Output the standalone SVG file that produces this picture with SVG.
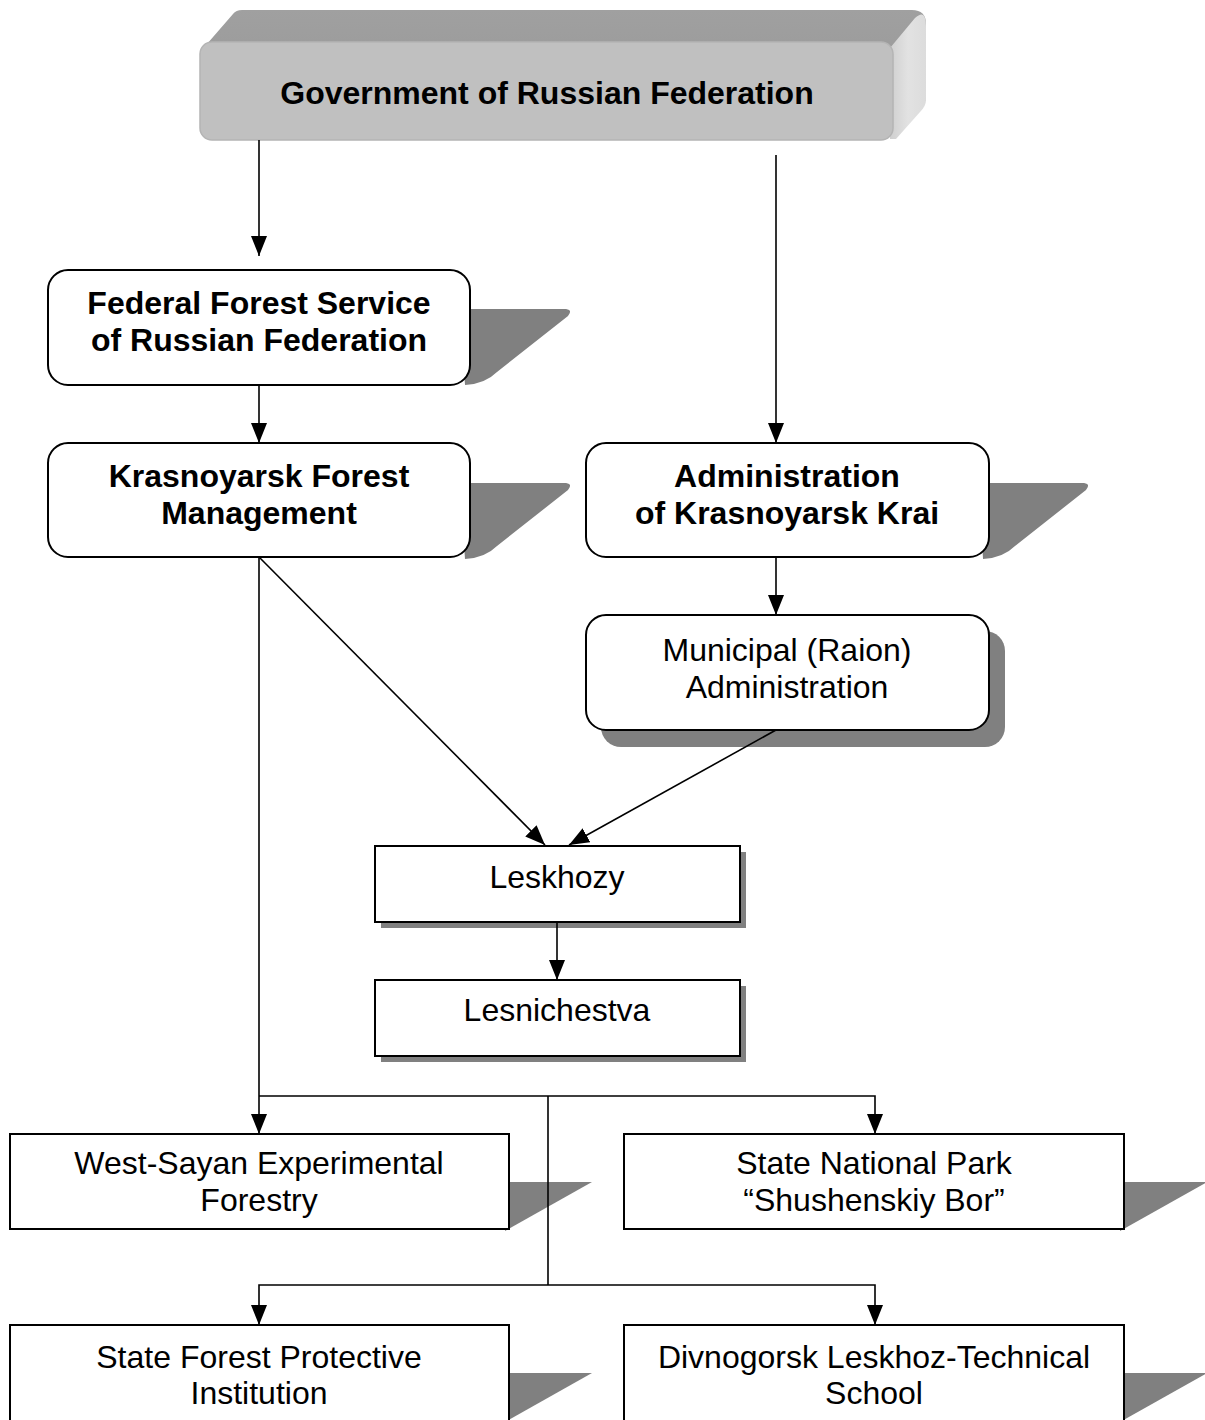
<svg xmlns="http://www.w3.org/2000/svg" width="1205" height="1420" viewBox="0 0 1205 1420">
<style>
.t{font-family:"Liberation Sans",Arial,sans-serif;font-size:32px;fill:#000;text-anchor:middle}
.b{font-weight:bold}
.box{fill:#fff;stroke:#000;stroke-width:2}
.sh{fill:#808080}
.ln{fill:none;stroke:#000;stroke-width:1.6}
</style>
<defs>
<marker id="ah" markerUnits="userSpaceOnUse" markerWidth="20" markerHeight="16" refX="20" refY="8" orient="auto" viewBox="0 0 20 16">
<path d="M0,0 L20,8 L0,16 Z" fill="#000"/>
</marker>
<linearGradient id="side" x1="0" y1="0" x2="1" y2="0">
<stop offset="0" stop-color="#cfcfcf"/>
<stop offset="0.5" stop-color="#e2e2e2"/>
<stop offset="1" stop-color="#dcdcdc"/>
</linearGradient>
<linearGradient id="top" x1="0" y1="0" x2="0" y2="1">
<stop offset="0" stop-color="#a0a0a0"/>
<stop offset="1" stop-color="#949494"/>
</linearGradient>
</defs>

<g id="gov">
<path d="M200,52 L233,14 Q236,10 242,10 L912,10 Q926,10 926,24 L926,100 L893,138 L893,52 Z" fill="url(#top)"/>
<path d="M890,48 L915,18 Q926,8 926,26 L926,100 Q926,106 920,112 L896,139 L890,139 Z" fill="url(#side)"/>
<rect x="200" y="42" width="693" height="98" rx="12" fill="#c0c0c0" stroke="#b4b4b4" stroke-width="1.5"/>
<text class="t b" x="547" y="104">Government of Russian Federation</text>
</g>

<g id="ffs">
<path class="sh" d="M460,309 L566,309 Q573,310 568,316 L497,372 Q485,384 465,385 Z"/>
<rect class="box" x="48" y="270" width="422" height="115" rx="20"/>
<text class="t b" x="259" y="314">Federal Forest Service</text>
<text class="t b" x="259" y="351">of Russian Federation</text>
</g>

<g id="kfm">
<path class="sh" d="M460,483 L566,483 Q573,484 568,490 L497,546 Q485,558 465,559 Z"/>
<rect class="box" x="48" y="443" width="422" height="114" rx="20"/>
<text class="t b" x="259" y="487">Krasnoyarsk Forest</text>
<text class="t b" x="259" y="524">Management</text>
</g>

<g id="akk">
<path class="sh" d="M979,483 L1084,483 Q1091,484 1086,490 L1015,546 Q1003,558 983,559 Z"/>
<rect class="box" x="586" y="443" width="403" height="114" rx="20"/>
<text class="t b" x="787" y="487">Administration</text>
<text class="t b" x="787" y="524">of Krasnoyarsk Krai</text>
</g>

<g id="mra">
<rect class="sh" x="601" y="631" width="404" height="116" rx="20"/>
<rect class="box" x="586" y="615" width="403" height="115" rx="20"/>
<text class="t" x="787" y="661">Municipal (Raion)</text>
<text class="t" x="787" y="698">Administration</text>
</g>

<g id="leskhozy">
<rect class="sh" x="381" y="852" width="365" height="76"/>
<rect class="box" x="375" y="846" width="365" height="76"/>
<text class="t" x="557" y="888">Leskhozy</text>
</g>

<g id="lesnichestva">
<rect class="sh" x="381" y="986" width="365" height="76"/>
<rect class="box" x="375" y="980" width="365" height="76"/>
<text class="t" x="557" y="1021">Lesnichestva</text>
</g>

<g id="wsef">
<polygon class="sh" points="505,1182 592,1182 505,1231"/>
<rect class="box" x="10" y="1134" width="499" height="95"/>
<text class="t" x="259" y="1174">West-Sayan Experimental</text>
<text class="t" x="259" y="1211">Forestry</text>
</g>

<g id="snp">
<polygon class="sh" points="1120,1182 1207,1182 1120,1231"/>
<rect class="box" x="624" y="1134" width="500" height="95"/>
<text class="t" x="874" y="1174">State National Park</text>
<text class="t" x="874" y="1211">“Shushenskiy Bor”</text>
</g>

<g id="sfpi">
<polygon class="sh" points="505,1373 592,1373 505,1422"/>
<rect class="box" x="10" y="1325" width="499" height="100"/>
<text class="t" x="259" y="1368">State Forest Protective</text>
<text class="t" x="259" y="1404">Institution</text>
</g>

<g id="dlts">
<polygon class="sh" points="1120,1373 1207,1373 1120,1422"/>
<rect class="box" x="624" y="1325" width="500" height="100"/>
<text class="t" x="874" y="1368">Divnogorsk Leskhoz-Technical</text>
<text class="t" x="874" y="1404">School</text>
</g>

<g id="connectors">
<line class="ln" x1="259" y1="140" x2="259" y2="256" marker-end="url(#ah)"/>
<line class="ln" x1="776" y1="155" x2="776" y2="443" marker-end="url(#ah)"/>
<line class="ln" x1="259" y1="385" x2="259" y2="443" marker-end="url(#ah)"/>
<line class="ln" x1="776" y1="557" x2="776" y2="615" marker-end="url(#ah)"/>
<line class="ln" x1="259" y1="557" x2="545" y2="845" marker-end="url(#ah)"/>
<line class="ln" x1="776" y1="730" x2="569" y2="845" marker-end="url(#ah)"/>
<line class="ln" x1="557" y1="922" x2="557" y2="980" marker-end="url(#ah)"/>
<line class="ln" x1="259" y1="557" x2="259" y2="1134" marker-end="url(#ah)"/>
<polyline class="ln" points="259,1096 875,1096 875,1134" marker-end="url(#ah)"/>
<line class="ln" x1="548" y1="1096" x2="548" y2="1285"/>
<polyline class="ln" points="548,1285 259,1285 259,1325" marker-end="url(#ah)"/>
<polyline class="ln" points="548,1285 875,1285 875,1325" marker-end="url(#ah)"/>
</g>
</svg>
